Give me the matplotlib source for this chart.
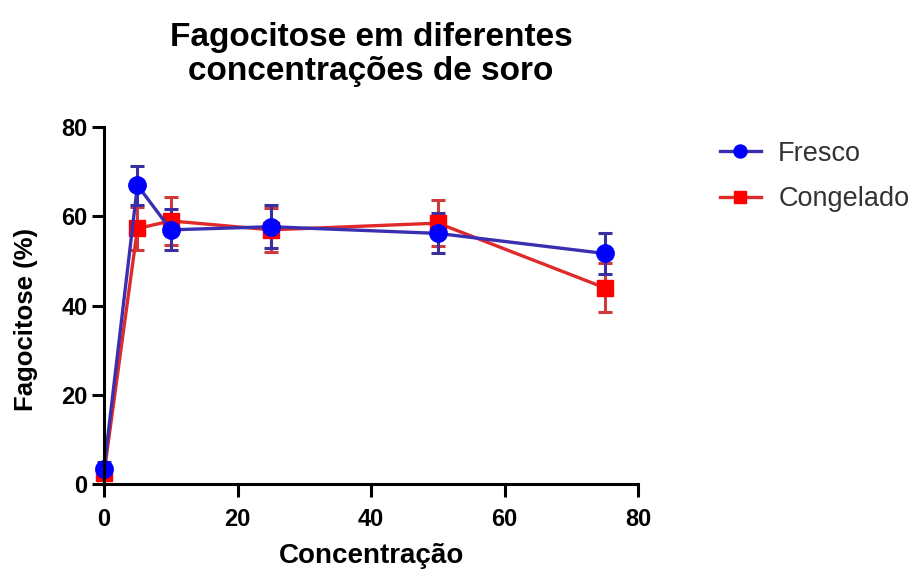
import numpy as np
import matplotlib.pyplot as plt

plt.rcParams['font.family'] = ['Liberation Sans', 'DejaVu Sans']

# Dados
concentracao = [0, 5, 10, 25, 50, 75]
fresco = [3.5, 67.0, 57.0, 57.7, 56.2, 51.7]
fresco_erro = [1.5, 4.4, 4.6, 4.8, 4.5, 4.5]
congelado = [2.5, 57.3, 59.0, 57.0, 58.5, 44.0]
congelado_erro = [1.2, 4.8, 5.4, 5.0, 5.2, 5.5]

fig = plt.figure(figsize=(9.21, 5.73), dpi=100)
ax = fig.add_axes([0.113, 0.155, 0.58, 0.623])

# Congelado primeiro, Fresco por cima
h_cong = ax.errorbar(concentracao, congelado, yerr=congelado_erro,
                     color='#e02a2a', ecolor='#d03a3a', lw=2.4, elinewidth=2.2,
                     capsize=5, capthick=2.2, marker='s', ms=11,
                     mfc='#ff0000', mec='#ff0000', label='Congelado',
                     clip_on=False)
h_fres = ax.errorbar(concentracao, fresco, yerr=fresco_erro,
                     color='#3a2fb0', ecolor='#3a2fa0', lw=2.4, elinewidth=2.2,
                     capsize=5, capthick=2.2, marker='o', ms=12.5,
                     mfc='#0000ff', mec='#0000ff', label='Fresco',
                     clip_on=False)

ax.set_xlim(0, 80)
ax.set_ylim(0, 80)
ax.set_xticks([0, 20, 40, 60, 80])
ax.set_yticks([0, 20, 40, 60, 80])
for lado in ['top', 'right']:
    ax.spines[lado].set_visible(False)
for lado in ['left', 'bottom']:
    ax.spines[lado].set_linewidth(2.2)
ax.tick_params(direction='out', length=9, width=2.2, labelsize=17)
ax.tick_params(axis='x', pad=8)
ax.tick_params(axis='y', pad=3)
for t in ax.get_xticklabels() + ax.get_yticklabels():
    t.set_fontweight('bold')

ax.set_xlabel('Concentração', fontsize=20, fontweight='bold', labelpad=9)
ax.set_ylabel('Fagocitose (%)', fontsize=18.5, fontweight='bold')
ax.yaxis.set_label_coords(-0.123, 0.462)
fig.text(0.403, 0.905, 'Fagocitose em diferentes\nconcentrações de soro',
         ha='center', va='center', fontsize=24, fontweight='bold',
         linespacing=1.15)

# Legenda só com linha e marcador
leg = fig.legend([h_fres[0], h_cong[0]], ['Fresco', 'Congelado'],
                 loc='upper left', bbox_to_anchor=(0.767, 0.778),
                 frameon=False, fontsize=19.5, handlelength=1.5,
                 handletextpad=0.65, labelspacing=0.72, borderpad=0,
                 markerscale=0.75)
for t in leg.get_texts():
    t.set_color('#333333')

fig.savefig('out.png', dpi=100)
